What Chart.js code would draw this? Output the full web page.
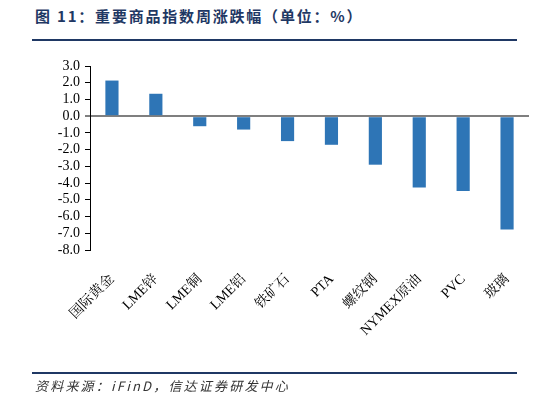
<!DOCTYPE html>
<html>
<head>
<meta charset="utf-8">
<script src="https://cdn.jsdelivr.net/npm/chart.js@4/dist/chart.umd.min.js"></script>
<style>
  body { margin: 0; background: #fff; }
  #wrap { position: relative; width: 549px; height: 399px; overflow: hidden; }
  #title {
    position: absolute; left: 35px; top: 5px;
    font: bold 15px "Noto Sans CJK SC", sans-serif; color: #1f3864; letter-spacing: 1.8px;
  }
  .rule { position: absolute; left: 32px; width: 485px; height: 2px; background: #1f3864; }
  #source {
    position: absolute; left: 35px; top: 376px;
    font: italic 13px "Noto Sans CJK SC", sans-serif; color: #333; letter-spacing: 2.2px;
  }
  #cv { position: absolute; left: 0; top: 0; }
</style>
</head>
<body>
<div id="wrap">
  <div id="title">图 11：重要商品指数周涨跌幅（单位：%）</div>
  <div class="rule" style="top:39px"></div>
  <canvas id="cv" width="549" height="399"></canvas>
  <div class="rule" style="top:372px"></div>
  <div id="source">资料来源：iFinD，信达证券研发中心</div>
</div>
<script>
// categories and weekly change (%)
const categories = ['国际黄金', 'LME锌', 'LME铜', 'LME铝', '铁矿石', 'PTA', '螺纹钢', 'NYMEX原油', 'PVC', '玻璃'];
const changes = [2.13, 1.34, -0.6, -0.8, -1.49, -1.71, -2.9, -4.26, -4.48, -6.78];
const yMin = -8;
const yMax = 3;

const serif = '"Liberation Serif", "Noto Serif CJK SC", "Noto Sans CJK SC", serif';

new Chart(document.getElementById('cv').getContext('2d'), {
    type: 'bar',
    data: {
        labels: categories,
        datasets: [{
            data: changes,
            backgroundColor: '#2e75b6',
            borderColor: '#2e75b6',
            borderWidth: 0,
            categoryPercentage: 1,
            barPercentage: 0.3
        }]
    },
    options: {
        responsive: false,
        animation: false,
        layout: { padding: { left: 0, right: 20, top: 66, bottom: 0 } },
        plugins: { legend: { display: false }, tooltip: { enabled: false } },
        scales: {
            x: {
                grid: { display: false },
                border: { display: false },
                ticks: {
                    minRotation: 45, maxRotation: 45, padding: 13,
                    color: '#000', font: { family: serif, size: 14 }, autoSkip: false
                },
                afterFit: function (scale) { scale.height = 149; }
            },
            y: {
                min: yMin, max: yMax,
                grid: {
                    color: ctx => ctx.tick && ctx.tick.value === 0 ? '#7f7f7f' : 'rgba(0,0,0,0)',
                    lineWidth: ctx => ctx.tick && ctx.tick.value === 0 ? 2 : 1,
                    tickColor: '#000', tickLength: 5, tickWidth: 1
                },
                border: { color: '#000', width: 1 },
                ticks: {
                    stepSize: 1, padding: 5, color: '#000', autoSkip: false,
                    font: { family: serif, size: 14 },
                    callback: v => v.toFixed(1)
                },
                afterFit: function (scale) { scale.width = 90; }
            }
        }
    }
});
</script>
</body>
</html>
